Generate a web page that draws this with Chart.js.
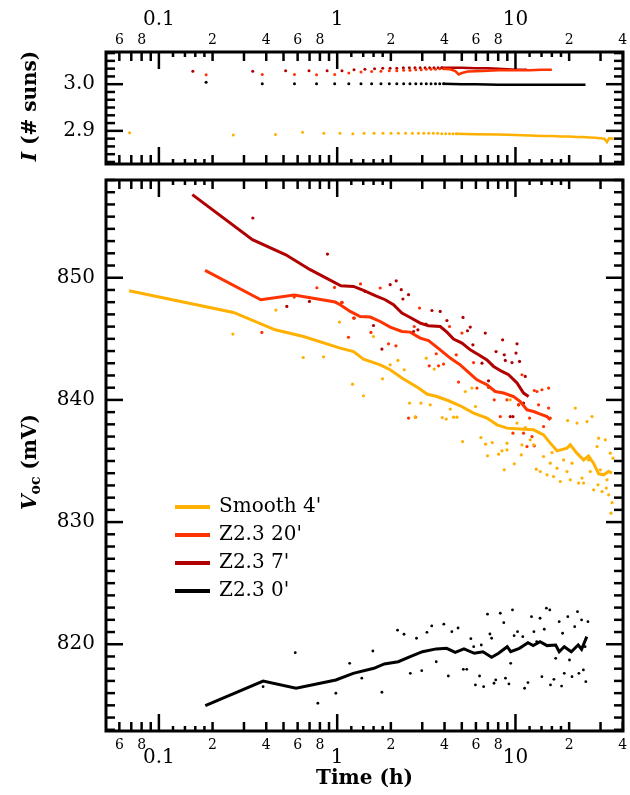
<!DOCTYPE html>
<html>
<head>
<meta charset="utf-8">
<script src="https://cdn.jsdelivr.net/npm/chart.js@4.4.1/dist/chart.umd.min.js"></script>
<style>
body{margin:0;background:#fff}
#wrap{position:relative;width:630px;height:795px}
canvas{position:absolute;left:0}
</style>
</head>
<body>
<div id="wrap">
<canvas id="topChart" width="630" height="172" style="top:0px"></canvas>
<canvas id="mainChart" width="630" height="623" style="top:172px"></canvas>
</div>
<script>
// ---- Voc (mV) vs time (h), smoothed lines ----
var smoothLineT=[0.0681,0.262,0.449,0.647,1.04,1.235,1.405,1.743,1.983,2.307,2.859,3.187,3.627,4.213,4.90,5.82,6.92,7.88,8.96,10.64,12.64,14.38,15.68,17.1,19.45,20.3,22.1,24.1,25.7,27.4,29.3,31.2,33.3,34.8]
var smoothLineV=[848.94,847.16,845.74,845.19,844.24,843.96,843.34,842.87,842.47,841.79,840.97,840.48,840.28,839.93,839.52,838.92,838.51,837.96,837.69,837.61,837.55,837.14,836.46,835.83,836.05,836.32,835.64,835.09,835.42,834.82,833.95,833.87,834.14,834.0]
var z20LineT=[0.1816,0.373,0.574,0.974,1.04,1.183,1.346,1.532,1.743,1.983,2.307,2.569,2.923,3.253,3.784,4.306,4.595,4.90,5.577,6.08,6.92,7.70,8.58,9.76,10.64,11.60,12.64,13.78,15.03,15.68]
var z20LineV=[850.60,848.20,848.58,848.01,847.79,847.24,846.83,846.78,846.42,845.96,845.60,845.55,845.06,844.86,844.10,843.42,843.15,842.87,842.14,841.65,841.24,840.69,840.56,840.28,839.87,839.19,839.05,838.84,838.64,838.37]
var z7LineT=[0.154,0.3347,0.5153,0.7054,1.049,1.235,1.405,1.634,1.859,2.070,2.307,2.569,2.923,3.253,3.784,4.127,4.495,5.01,5.577,6.21,6.92,7.54,8.40,9.15,10.20,11.10,11.85]
var z7LineV=[856.80,853.11,851.88,850.66,849.34,849.29,848.96,848.53,848.20,847.79,847.11,846.75,846.29,846.07,846.01,845.55,844.98,844.65,844.10,843.69,843.28,842.74,842.33,842.06,841.38,840.56,840.28]
var z0LineT=[0.1821,0.3843,0.588,0.983,1.23,1.607,1.838,2.199,2.63,3.007,3.594,4.11,4.595,5.14,5.88,6.57,7.35,8.04,8.99,9.40,10.52,11.75,12.57,13.74,15.03,16.81,17.59,18.78,20.56,22.48,23.49,25.12]
var z0LineV=[814.97,816.99,816.40,817.08,817.62,818.03,818.39,818.57,819.04,819.39,819.62,819.67,819.34,819.62,819.26,819.39,818.94,819.26,819.80,819.39,819.67,820.13,819.89,820.21,819.89,819.94,819.39,819.80,819.39,819.94,819.59,820.62]

// ---- Voc raw points ----
var smoothDotT=[0.260,0.453,0.645,0.838,1.030,1.219,1.405,1.598,1.796,1.983,2.191,2.377,2.545,2.740,2.949,3.158,3.325,3.502,3.884,4.090,4.306,4.495,4.697,5.05,5.23,5.70,5.97,6.40,6.80,6.97,7.41,8.04,8.40,8.65,8.96,9.35,9.85,10.20,10.78,11.35,12.11,13.09,13.78,15.03,15.68,16.03,17.10,17.84,18.62,19.61,19.45,20.75,21.66,22.14,22.60,24.11,25.19,25.72,26.88,27.44,28.68,29.27,29.92,30.58,31.91,32.62,33.30,34.04,34.79,34.35,35.25,32.32,29.04,26.29,23.62,20.30,16.36,14.38,12.64,10.88,8.96]
var smoothDotV=[845.39,847.35,843.47,843.53,846.37,841.29,840.34,845.19,841.73,842.87,843.23,842.47,839.74,838.59,839.74,843.42,839.60,842.52,838.56,838.43,839.25,838.59,838.59,836.59,840.69,840.97,839.46,836.92,836.38,835.42,836.51,835.56,835.83,834.28,835.91,840.01,834.77,838.10,835.50,837.74,836.73,834.33,834.14,833.87,834.82,835.69,834.41,833.32,835.09,838.31,834.14,834.82,839.33,838.10,833.19,833.19,838.23,835.09,838.64,832.64,836.18,836.87,834.28,832.50,836.73,833.46,832.23,835.64,831.60,830.73,835.23,832.78,833.05,834.14,833.60,833.46,833.73,835.37,836.32,836.32,836.46]
var z20DotT=[0.378,0.574,0.769,0.966,1.063,1.157,1.235,1.352,1.546,1.743,1.941,2.135,2.513,2.705,2.751,2.896,3.283,3.594,3.703,3.951,4.267,4.655,4.795,5.01,5.82,6.08,7.06,7.60,8.22,8.96,9.68,10.41,10.88,11.10,11.60,12.38,12.75,13.20,13.48,14.08,14.38,15.34,15.68,15.34,12.00,12.75]
var z20DotV=[845.52,848.42,849.18,849.21,847.98,845.13,846.70,849.49,845.52,849.16,844.59,844.43,838.51,846.01,838.59,847.52,842.79,843.78,842.79,842.93,846.01,843.69,841.46,845.47,843.06,840.97,841.02,840.01,838.64,840.01,837.28,839.60,842.06,837.28,836.18,837.00,840.77,840.69,839.60,840.83,837.82,840.97,838.51,839.33,838.51,836.24]
var z7DotT=[0.3364,0.882,0.699,0.522,1.063,1.246,1.983,2.143,2.337,2.513,3.400,3.784,4.127,5.08,5.38,5.577,5.77,6.77,6.49,7.06,7.78,8.47,8.65,8.77,9.56,10.07,10.20,10.54,11.35,10.41,9.68,11.10,9.35,3.146,2.681,2.837,2.287,1.598,1.436,1.782]
var z7DotV=[854.89,851.94,848.06,847.65,847.98,846.70,849.43,849.75,848.26,848.61,847.32,847.24,846.50,846.75,845.66,845.96,844.51,845.47,843.01,841.56,843.96,844.92,843.69,843.23,843.06,843.83,844.59,843.15,841.92,839.60,838.64,839.74,838.64,846.21,845.60,845.74,849.02,846.09,848.88,844.16]
var z0DotT=[0.384,0.582,0.779,0.983,1.175,1.374,1.586,1.782,2.180,2.371,2.572,2.786,2.980,3.187,3.391,3.594,3.965,4.202,4.396,4.764,5.10,5.33,5.62,5.83,5.96,6.29,6.43,6.63,6.97,7.19,7.35,7.58,7.75,8.22,8.60,8.79,9.19,9.40,9.62,9.83,10.27,10.99,11.25,11.75,12.30,12.69,13.15,13.74,14.07,14.51,14.91,15.58,15.72,16.43,16.81,17.59,18.14,18.38,18.78,19.66,20.09,20.75,21.49,22.28,22.69,23.49,24.04,24.58,24.80,25.49]
var z0DotV=[816.53,819.31,815.17,815.99,818.44,817.22,819.45,816.07,821.15,820.82,817.62,820.49,817.84,820.98,821.50,818.57,821.64,817.40,821.03,821.33,817.95,817.95,820.46,819.80,816.67,817.40,819.94,816.53,822.46,820.84,820.49,816.81,817.08,822.54,821.77,817.22,816.75,818.44,822.81,820.70,821.03,820.62,816.40,816.86,822.26,821.03,820.21,822.13,817.35,821.23,822.95,822.81,816.67,817.13,818.85,821.85,816.58,820.90,817.62,822.26,818.71,817.35,821.44,822.67,817.62,821.99,817.90,819.80,816.94,821.85]

// ---- intensity I (# suns) ----
var smoothIDotT=[0.0685,0.2615,0.451,0.639,0.842,1.036,1.224,1.416,1.611,1.807,2.004,2.203,2.418,2.64,2.855,3.06,3.26,3.46,3.66,3.86,4.06,4.26,4.46,4.66]
var smoothIDotV=[2.896,2.891,2.892,2.897,2.895,2.895,2.894,2.895,2.895,2.895,2.895,2.895,2.895,2.895,2.895,2.895,2.895,2.895,2.895,2.894,2.894,2.894,2.894,2.894]
var smoothIBandT=[4.6,6,8,10,12,14,16,18,20,22,24,26,28,30,31.5,32.6,33.5,35.5]
var smoothIBandV=[2.894,2.893,2.892,2.891,2.890,2.889,2.889,2.888,2.888,2.887,2.887,2.886,2.885,2.884,2.883,2.876,2.884,2.883]
var z20IDotT=[0.184,0.38,0.576,0.766,0.968,1.162,1.36,1.56,1.76,1.96,2.16,2.36,2.56,2.76,2.96,3.16,3.36,3.56,3.76,3.96]
var z20IDotV=[3.020,3.021,3.021,3.020,3.021,3.024,3.026,3.027,3.028,3.029,3.029,3.030,3.030,3.031,3.031,3.032,3.032,3.032,3.033,3.033]
var z20IBandT=[3.9,4.3,4.6,4.8,5.0,5.4,6,7,8,9,10,12,14,16]
var z20IBandV=[3.033,3.032,3.028,3.021,3.024,3.027,3.028,3.029,3.030,3.030,3.030,3.030,3.031,3.031]
var z7IDotT=[0.155,0.336,0.514,0.695,0.878,1.064,1.243,1.43,1.62,1.80,1.98,2.16,2.35,2.54,2.73,2.92,3.11,3.3,3.49,3.68,3.87]
var z7IDotV=[3.028,3.028,3.029,3.029,3.029,3.029,3.031,3.032,3.033,3.034,3.034,3.034,3.035,3.035,3.035,3.035,3.035,3.035,3.035,3.035,3.035]
var z7IBandT=[3.8,5,6,7,8,9,10,11,11.6]
var z7IBandV=[3.035,3.035,3.034,3.034,3.033,3.032,3.031,3.031,3.031]
var z0IDotT=[0.184,0.38,0.576,0.766,0.968,1.162,1.36,1.56,1.76,1.96,2.16,2.36,2.56,2.76,2.96,3.16,3.36,3.56,3.76,3.96]
var z0IDotV=[3.004,3.001,3.001,3.001,3.001,3.001,3.001,3.001,3.001,3.001,3.001,3.001,3.001,3.001,3.001,3.001,3.001,3.001,3.001,3.001]
var z0IBandT=[3.9,5,6,8,10,12,14,16,18,20,22,24.7]
var z0IBandV=[3.001,3.000,3.000,2.999,2.999,2.999,2.999,2.999,2.999,2.999,2.999,2.999]

// ---- legend and tick labels ----
var seriesNames=["Smooth 4'","Z2.3 20'","Z2.3 7'","Z2.3 0'"]
var seriesColors=["#FFB000","#FF3300","#B00000","#000000"]
var xMajorVals=[0.1,1,10]
var xMajorText=["0.1","1","10"]
var xMinorLabelVals=[0.06,0.08,0.2,0.4,0.6,0.8,2,4,6,8,20,40]
var xMinorLabelText=["6","8","2","4","6","8","2","4","6","8","2","4"]
var vocTicks=[820,830,840,850]
var sunTicks=[2.9,3.0]

var FONT="'DejaVu Serif', serif"

const pts = function(t,v){ return t.map((x,i)=>({x:x,y:v[i]})) }
const lineSet = function(t,v,color,w){
	return {data:pts(t,v),showLine:true,pointRadius:0,borderColor:color,borderWidth:w,fill:false,tension:0,order:0}
}
const dotSet = function(t,v,color,r){
	return {data:pts(t,v),showLine:false,pointRadius:r,pointBackgroundColor:color,pointBorderWidth:0,order:1}
}

// log axis tick positions
var xMinorTicks=[], xSubTicks=[]
;[0.01,0.1,1,10].forEach(d=>{
	for(let k=2;k<=9;k++) xMinorTicks.push(k*d)
	;[1.2,1.4,1.6,1.8].forEach(k=>xSubTicks.push(k*d))
})

const seg = function(ctx,x1,y1,x2,y2){ ctx.beginPath(); ctx.moveTo(x1,y1); ctx.lineTo(x2,y2); ctx.stroke() }

const drawRich = function(ctx,parts,x,y){
	let w=0
	parts.forEach(p=>{ ctx.font=p.font; p.w=ctx.measureText(p.text).width; w+=p.w })
	let cx=x-w/2
	parts.forEach(p=>{ ctx.font=p.font; ctx.fillText(p.text,cx,y+(p.dy||0)); cx+=p.w })
}

const axesPlugin = function(cfg){
	return {
		id:'axes',
		afterDraw(chart){
			var ctx=chart.ctx, a=chart.chartArea, xs=chart.scales.x, ys=chart.scales.y
			ctx.save()
			ctx.strokeStyle='#000'; ctx.fillStyle='#000'; ctx.lineCap='butt'
			ctx.lineWidth=2.5
			var inX=v=>v>=xs.min&&v<=xs.max
			xMajorVals.filter(inX).forEach(v=>{ var p=xs.getPixelForValue(v); seg(ctx,p,a.top,p,a.top+17); seg(ctx,p,a.bottom,p,a.bottom-17) })
			xMinorTicks.filter(inX).forEach(v=>{ var p=xs.getPixelForValue(v); seg(ctx,p,a.top,p,a.top+9); seg(ctx,p,a.bottom,p,a.bottom-9) })
			xSubTicks.filter(inX).forEach(v=>{ var p=xs.getPixelForValue(v); seg(ctx,p,a.top,p,a.top+5); seg(ctx,p,a.bottom,p,a.bottom-5) })
			for(var k=0; k<cfg.yCount; k++){
				var vv=cfg.yStart+k*cfg.yStep
				var p=ys.getPixelForValue(vv)
				var isMajor=cfg.yMajor.some(m=>Math.abs(m-vv)<1e-6)
				var len=isMajor?17:9
				seg(ctx,a.left,p,a.left+len,p); seg(ctx,a.right,p,a.right-len,p)
			}
			ctx.lineWidth=3
			ctx.strokeRect(a.left,a.top,a.right-a.left,a.bottom-a.top)

			// y tick labels
			ctx.font='20px '+FONT; ctx.textAlign='right'; ctx.textBaseline='middle'
			cfg.yMajor.forEach((v,i)=>{ ctx.fillText(cfg.yText[i],95,ys.getPixelForValue(v)) })

			// x tick labels
			ctx.textAlign='center'
			var minorY=cfg.xOnTop ? 40 : a.bottom+14
			var majorY=cfg.xOnTop ? 20 : a.bottom+27
			ctx.font='14px '+FONT
			xMinorLabelVals.forEach((v,i)=>{ ctx.fillText(xMinorLabelText[i],xs.getPixelForValue(v),minorY) })
			ctx.font='20px '+FONT
			xMajorVals.forEach((v,i)=>{ ctx.fillText(xMajorText[i],xs.getPixelForValue(v),majorY) })

			// axis titles
			if(!cfg.xOnTop){
				ctx.font='bold 20px '+FONT
				ctx.fillText('Time (h)',(a.left+a.right)/2,a.bottom+48)
			}
			ctx.textAlign='left'
			ctx.translate(31,cfg.titleY)
			ctx.rotate(-Math.PI/2)
			drawRich(ctx,cfg.title,0,0)
			ctx.restore()

			if(cfg.legend){
				ctx.save()
				ctx.font='20px '+FONT; ctx.textBaseline='middle'; ctx.textAlign='left'
				seriesNames.forEach((n,i)=>{
					var y=cfg.legendY+i*28 - chart.canvas.offsetTop
					ctx.strokeStyle=seriesColors[i]; ctx.lineWidth=4
					seg(ctx,175,y,210,y)
					ctx.fillStyle='#000'
					ctx.fillText(n,219,y)
				})
				ctx.restore()
			}
		}
	}
}

const baseOptions = function(pad,xmin,xmax,ymin,ymax){
	return {
		responsive:false, animation:false, devicePixelRatio:1,
		layout:{padding:pad},
		plugins:{legend:{display:false},tooltip:{enabled:false}},
		scales:{
			x:{type:'logarithmic',min:xmin,max:xmax,display:false},
			y:{type:'linear',min:ymin,max:ymax,display:false}
		}
	}
}

new Chart(document.getElementById('topChart'),{
	type:'scatter',
	data:{datasets:[
		lineSet(smoothIBandT,smoothIBandV,seriesColors[0],2.5),
		lineSet(z20IBandT,z20IBandV,seriesColors[1],2.5),
		lineSet(z7IBandT,z7IBandV,seriesColors[2],2.5),
		lineSet(z0IBandT,z0IBandV,seriesColors[3],2.5),
		dotSet(smoothIDotT,smoothIDotV,seriesColors[0],1.5),
		dotSet(z20IDotT,z20IDotV,seriesColors[1],1.5),
		dotSet(z7IDotT,z7IDotV,seriesColors[2],1.5),
		dotSet(z0IDotT,z0IDotV,seriesColors[3],1.5)
	]},
	options:baseOptions({left:106,right:7,top:52,bottom:8},0.0505,40.1,2.829,3.069),
	plugins:[axesPlugin({
		xOnTop:true, yStart:2.9-4/60, yStep:1/60, yCount:15, yMajor:sunTicks, yText:['2.9','3.0'],
		titleY:106,
		title:[{text:'I',font:'italic bold 20px '+FONT},{text:' (# suns)',font:'bold 20px '+FONT}]
	})]
})

new Chart(document.getElementById('mainChart'),{
	type:'scatter',
	data:{datasets:[
		lineSet(smoothLineT,smoothLineV,seriesColors[0],3),
		lineSet(z20LineT,z20LineV,seriesColors[1],3),
		lineSet(z7LineT,z7LineV,seriesColors[2],3),
		lineSet(z0LineT,z0LineV,seriesColors[3],3),
		dotSet(smoothDotT,smoothDotV,seriesColors[0],1.6),
		dotSet(z20DotT,z20DotV,seriesColors[1],1.6),
		dotSet(z7DotT,z7DotV,seriesColors[2],1.6),
		dotSet(z0DotT,z0DotV,seriesColors[3],1.4)
	]},
	options:baseOptions({left:106,right:7,top:8,bottom:64},0.0505,40.1,812.9,858),
	plugins:[axesPlugin({
		xOnTop:false, yStart:813, yStep:1, yCount:46, yMajor:vocTicks, yText:['820','830','840','850'],
		titleY:290, legend:true, legendY:507,
		title:[{text:'V',font:'italic bold 20px '+FONT},{text:'oc',font:'bold 14px '+FONT,dy:5},{text:' (mV)',font:'bold 20px '+FONT}]
	})]
})
</script>
</body>
</html>
